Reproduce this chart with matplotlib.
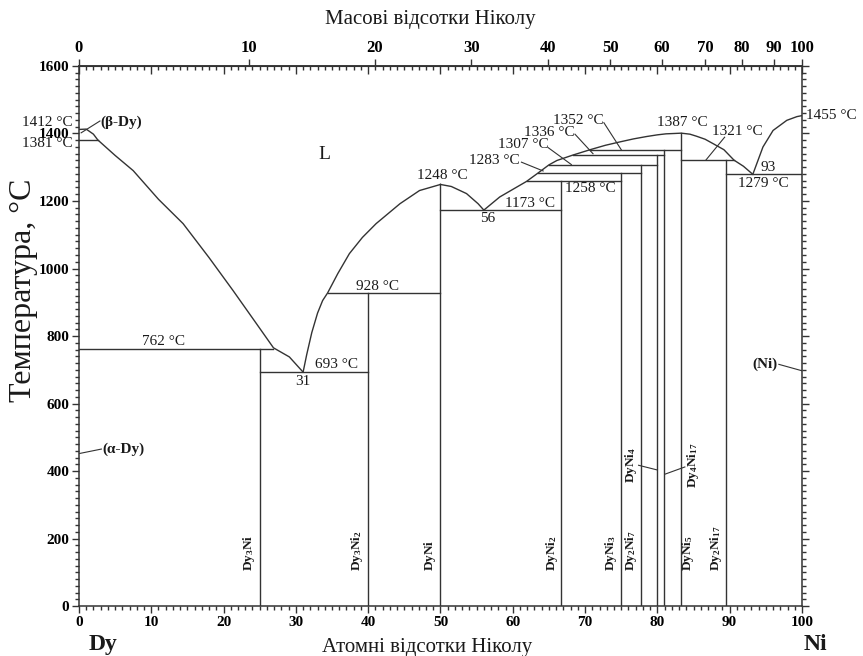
import numpy as np
import matplotlib
matplotlib.use('Agg')
import matplotlib.pyplot as plt
from matplotlib.ticker import MultipleLocator, FixedLocator, NullFormatter

plt.rcParams['font.family'] = ['Liberation Serif', 'DejaVu Serif']
plt.rcParams['mathtext.fontset'] = 'custom'
plt.rcParams['mathtext.rm'] = 'Liberation Serif'
plt.rcParams['mathtext.bf'] = 'Liberation Serif:bold'
plt.rcParams['mathtext.it'] = 'Liberation Serif:italic'

M_NI = 58.693
M_DY = 162.5

# liquidus branches, at.% Ni vs °C
liq1_x = [0, 1.0, 2.0, 2.6, 5.0, 7.5, 11.0, 14.4, 18.0, 21.3, 24.5, 26.9, 29.1, 31.0]
liq1_t = [1412, 1413, 1398, 1381, 1335, 1290, 1205, 1133, 1032, 935, 838, 765, 738, 693]
liq2_x = [31.0, 31.5, 32.2, 33.0, 33.7, 34.4, 35.8, 37.4, 39.2, 41.1, 44.4, 47.1, 50.0]
liq2_t = [693, 745, 810, 868, 905, 928, 985, 1044, 1092, 1133, 1192, 1231, 1249]
liq3_x = [50.0, 51.5, 53.6, 55.2, 56.0]
liq3_t = [1249, 1243, 1222, 1192, 1173]
liq4_x = [56.0, 58.2, 61.9, 63.5, 65.0, 66.1, 68.3, 70.7, 72.8, 74.8, 76.7, 78.5,
          80.0, 81.2, 82.3, 83.3, 84.5, 85.4, 86.6, 87.7, 89.2, 90.6, 91.9, 93.2]
liq4_t = [1173, 1212, 1258, 1283, 1307, 1320, 1336, 1352, 1365, 1375, 1384, 1391,
          1396, 1399, 1400, 1401, 1398, 1392, 1383, 1370, 1352, 1321, 1303, 1279]
liq5_x = [93.2, 94.6, 96.0, 97.9, 99.3, 100.0]
liq5_t = [1279, 1360, 1409, 1439, 1450, 1453]

# horizontal invariant lines
iso_x0 = [0, 0, 25.0, 34.4, 50.0, 61.9, 63.5, 65.0, 68.3, 70.7, 83.33, 89.47]
iso_x1 = [2.6, 26.9, 40.0, 50.0, 66.67, 75.0, 77.78, 80.0, 80.95, 83.33, 90.6, 100]
iso_t = [1381, 762, 693, 928, 1173, 1258, 1283, 1307, 1336, 1352, 1321, 1279]

# compounds: composition and top temperature
comp_x = [25.0, 40.0, 50.0, 66.67, 75.0, 77.78, 80.0, 80.95, 83.33, 89.47]
comp_top = [762, 928, 1249, 1258, 1283, 1307, 1336, 1352, 1401, 1321]

low_names = [r'$\mathbf{Dy_3Ni}$', r'$\mathbf{Dy_3Ni_2}$', r'$\mathbf{DyNi}$',
             r'$\mathbf{DyNi_2}$', r'$\mathbf{DyNi_3}$', r'$\mathbf{Dy_2Ni_7}$',
             r'$\mathbf{DyNi_5}$', r'$\mathbf{Dy_2Ni_{17}}$']
low_x = [24.6, 39.6, 49.6, 66.5, 74.7, 77.4, 85.3, 89.2]

# temperature annotations: text, x, T
temp_text = ['762 °C', '693 °C', '31', '928 °C', '1248 °C', '56', '1173 °C',
             '1387 °C', '93', '1279 °C', 'L']
temp_x = [11.7, 35.6, 31.0, 41.3, 50.3, 56.5, 62.4, 83.5, 95.3, 94.6, 34.0]
temp_y = [784, 716, 664, 948, 1276, 1148, 1194, 1434, 1300, 1253, 1338]

# labels with leader lines: text, text x, text T, leader from -> to
lead_text = ['1283 °C', '1307 °C', '1336 °C', '1352 °C', '1321 °C']
lead_tx = [61.0, 65.0, 68.6, 72.6, 87.6]
lead_ty = [1320, 1368, 1404, 1439, 1406]
lead_x0 = [61.2, 64.9, 68.6, 72.6, 89.3]
lead_y0 = [1315, 1358, 1398, 1432, 1389]
lead_x1 = [64.2, 68.1, 71.1, 75.0, 86.7]
lead_y1 = [1289, 1308, 1340, 1352, 1321]

wt_ticks = [0, 10, 20, 30, 40, 50, 60, 70, 80, 90, 100]

LC = '#333333'
TC = '#1a1a1a'


def at2wt(a):
    a = np.asarray(a, dtype=float)
    return 100 * a * M_NI / (a * M_NI + (100 - a) * M_DY)


def wt2at(w):
    w = np.asarray(w, dtype=float)
    return 100 * (w / M_NI) / (w / M_NI + (100 - w) / M_DY)


fig = plt.figure(figsize=(8.63, 6.56), dpi=100)
ax = fig.add_axes([0.0915, 0.0762, 0.8378, 0.8232])
ax.set_xlim(0, 100)
ax.set_ylim(0, 1600)

lw = 1.0
for xs, ts in [(liq1_x, liq1_t), (liq2_x, liq2_t), (liq3_x, liq3_t),
               (liq4_x, liq4_t), (liq5_x, liq5_t)]:
    ax.plot(xs, ts, color=LC, lw=lw)
for x0, x1, t in zip(iso_x0, iso_x1, iso_t):
    ax.plot([x0, x1], [t, t], color=LC, lw=lw)
for x, t in zip(comp_x, comp_top):
    ax.plot([x, x], [0, t], color=LC, lw=lw)

for name, x in zip(low_names, low_x):
    ax.text(x, 105, name, rotation=90, ha='right', va='bottom', fontsize=9.5, color=TC)

# DyNi4 and Dy4Ni17 with leaders
ax.text(76.4, 417, r'$\mathbf{DyNi_4}$', rotation=90, ha='center', va='center',
        fontsize=9.5, color=TC)
ax.plot([77.4, 80.0], [417, 403], color=LC, lw=0.8)
ax.text(84.9, 417, r'$\mathbf{Dy_4Ni_{17}}$', rotation=90, ha='center', va='center',
        fontsize=9.5, color=TC)
ax.plot([83.8, 81.1], [412, 391], color=LC, lw=0.8)

for s, x, y in zip(temp_text, temp_x, temp_y):
    fs = 14 if s == 'L' else 11
    ax.text(x, y, s, ha='center', va='center', fontsize=fs, color=TC)

for s, tx, ty, x0, y0, x1, y1 in zip(lead_text, lead_tx, lead_ty, lead_x0,
                                      lead_y0, lead_x1, lead_y1):
    ha = 'left' if s == '1321 °C' else 'right'
    ax.text(tx, ty, s, ha=ha, va='center', fontsize=11, color=TC)
    ax.plot([x0, x1], [y0, y1], color=LC, lw=0.8)

ax.text(67.2, 1236, '1258 °C', ha='left', va='center', fontsize=11, color=TC)
ax.text(100.6, 1453, '1455 °C', ha='left', va='center', fontsize=11, color=TC,
        clip_on=False)
ax.text(-0.9, 1434, '1412 °C', ha='right', va='center', fontsize=11, color=TC,
        clip_on=False)
ax.text(-0.9, 1371, '1381 °C', ha='right', va='center', fontsize=11, color=TC,
        clip_on=False)

# phase labels
ax.text(3.0, 1434, '(β-Dy)', ha='left', va='center', fontsize=11,
        fontweight='bold', color=TC)
ax.plot([0.3, 2.9], [1402, 1437], color=LC, lw=0.8)
ax.text(3.2, 465, '(α-Dy)', ha='left', va='center', fontsize=11,
        fontweight='bold', color=TC)
ax.plot([0.1, 3.1], [452, 465], color=LC, lw=0.8)
ax.text(96.6, 716, '(Ni)', ha='right', va='center', fontsize=11,
        fontweight='bold', color=TC)
ax.plot([96.8, 100], [716, 697], color=LC, lw=0.8)

# axes styling
for sp in ax.spines.values():
    sp.set_color(LC)
    sp.set_linewidth(1.1)

ax.xaxis.set_major_locator(MultipleLocator(10))
ax.xaxis.set_minor_locator(MultipleLocator(1))
ax.yaxis.set_major_locator(MultipleLocator(200))
ax.yaxis.set_minor_locator(MultipleLocator(20))
ax.tick_params(axis='both', which='major', direction='out', length=5, width=1,
               color=LC, labelsize=11, pad=2)
ax.tick_params(axis='both', which='minor', direction='out', length=3, width=1,
               color=LC)
ax.tick_params(axis='y', which='both', right=True, labelright=False)
for lab in ax.get_xticklabels() + ax.get_yticklabels():
    lab.set_fontweight('bold')

# top: atomic % ticks inside
top_at = ax.secondary_xaxis('top')
top_at.xaxis.set_major_locator(MultipleLocator(10))
top_at.xaxis.set_minor_locator(MultipleLocator(1))
top_at.xaxis.set_major_formatter(NullFormatter())
top_at.tick_params(which='major', direction='in', length=6, width=1, color=LC)
top_at.tick_params(which='minor', direction='in', length=3, width=1, color=LC)
top_at.spines['top'].set_color(LC)
top_at.spines['top'].set_linewidth(1.1)

# top: weight % scale
top_wt = ax.secondary_xaxis('top', functions=(at2wt, wt2at))
top_wt.xaxis.set_major_locator(FixedLocator(wt_ticks))
top_wt.xaxis.set_minor_locator(FixedLocator([]))
top_wt.tick_params(which='major', direction='out', length=5, width=1, color=LC,
                   labelsize=12, pad=2)
top_wt.spines['top'].set_color(LC)
for lab in top_wt.get_xticklabels():
    lab.set_fontweight('bold')

ax.text(0.486, 1.087, 'Масові відсотки Ніколу', transform=ax.transAxes,
        ha='center', va='center', fontsize=15, color=TC)

ax.set_ylabel('Температура, °C', fontsize=23, color=TC)
ax.yaxis.set_label_coords(-0.056, 0.585)
ax.set_xlabel('Атомні відсотки Ніколу', fontsize=15, color=TC)
ax.xaxis.set_label_coords(0.481, -0.059)

ax.text(0.033, -0.072, 'Dy', transform=ax.transAxes, ha='center', va='center',
        fontsize=17, fontweight='bold', color=TC)
ax.text(1.018, -0.072, 'Ni', transform=ax.transAxes, ha='center', va='center',
        fontsize=17, fontweight='bold', color=TC)

fig.savefig('out.png', dpi=100)
